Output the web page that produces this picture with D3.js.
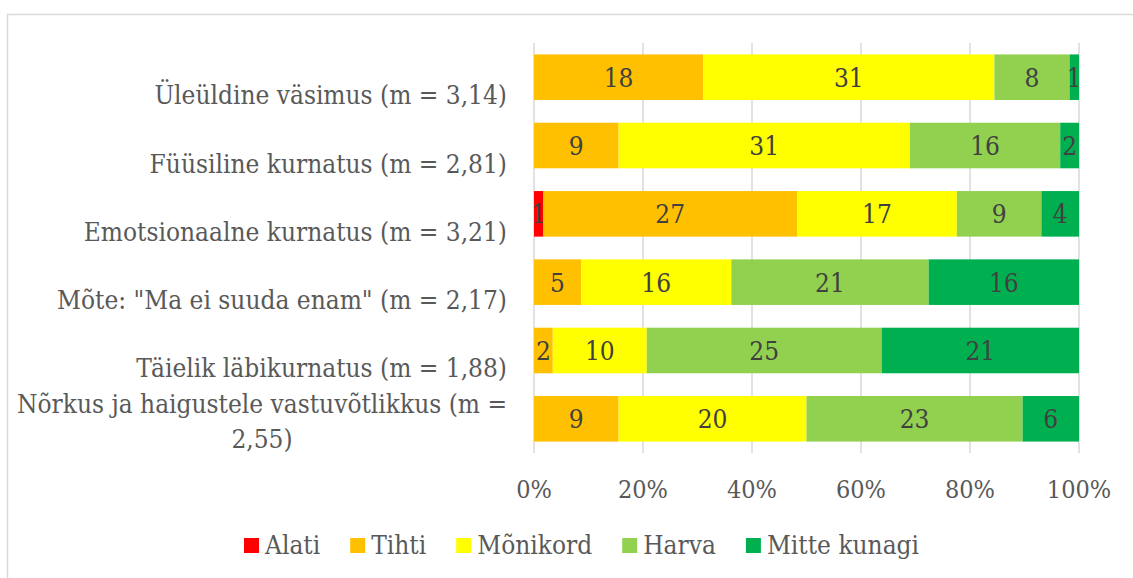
<!DOCTYPE html>
<html lang="et">
<head>
  <meta charset="UTF-8">
  <title>Kurnatus</title>
  <style>
    body { margin: 0; background: #fff; }
    svg { display: block; }
    svg text { font-family: "DejaVu Serif Condensed", "DejaVu Serif", serif; font-stretch: condensed; }
  </style>
</head>
<body>
  <svg width="1133" height="578"></svg>

  <script src="https://d3js.org/d3.v7.min.js"></script>
  <script>
    const categories = [
      "Üleüldine väsimus (m = 3,14)",
      "Füüsiline kurnatus (m = 2,81)",
      "Emotsionaalne kurnatus (m = 3,21)",
      "Mõte: \"Ma ei suuda enam\" (m = 2,17)",
      "Täielik läbikurnatus (m = 1,88)",
      "Nõrkus ja haigustele vastuvõtlikkus (m = 2,55)"
    ];
    const seriesNames = ["Alati", "Tihti", "Mõnikord", "Harva", "Mitte kunagi"];
    const alati       = [0, 0, 1, 0, 0, 0];
    const tihti       = [18, 9, 27, 5, 2, 9];
    const monikord    = [31, 31, 17, 16, 10, 20];
    const harva       = [8, 16, 9, 21, 25, 23];
    const mitteKunagi = [1, 2, 4, 16, 21, 6];
    const tickValues = [0, 0.2, 0.4, 0.6, 0.8, 1];
    const colors = ["#FF0000", "#FFC000", "#FFFF00", "#92D050", "#00B050"];

    const rows = categories.map((c, i) => ({
      cat: c,
      "Alati": alati[i],
      "Tihti": tihti[i],
      "Mõnikord": monikord[i],
      "Harva": harva[i],
      "Mitte kunagi": mitteKunagi[i]
    }));

    const svg = d3.select("svg");

    // chart frame
    svg.append("rect")
      .attr("x", 7.5).attr("y", 14.5)
      .attr("width", 1200).attr("height", 600)
      .attr("fill", "none").attr("stroke", "#D9D9D9").attr("stroke-width", 1.5);

    const x = d3.scaleLinear().domain([0, 1]).range([534, 1079]);
    const y = d3.scaleBand().domain(categories).range([43, 453])
      .paddingInner(0.333).paddingOuter(0.167);
    const color = d3.scaleOrdinal().domain(seriesNames).range(colors);

    // gridlines
    svg.append("g")
      .selectAll("line")
      .data(tickValues)
      .join("line")
      .attr("x1", d => x(d)).attr("x2", d => x(d))
      .attr("y1", 43).attr("y2", 453)
      .attr("stroke", "#D9D9D9").attr("stroke-width", 1.5);

    // tick labels
    svg.append("g")
      .selectAll("text")
      .data(tickValues)
      .join("text")
      .attr("x", d => x(d))
      .attr("y", 498)
      .attr("text-anchor", "middle")
      .attr("font-size", 25)
      .attr("fill", "#595959")
      .text(d => d3.format(".0%")(d));

    const stacked = d3.stack().keys(seriesNames).offset(d3.stackOffsetExpand)(rows);

    const layer = svg.append("g")
      .selectAll("g")
      .data(stacked)
      .join("g")
      .attr("fill", d => color(d.key));

    layer.selectAll("rect")
      .data(d => d)
      .join("rect")
      .attr("x", d => x(d[0]))
      .attr("y", d => y(d.data.cat))
      .attr("width", d => x(d[1]) - x(d[0]))
      .attr("height", y.bandwidth());

    // data labels
    const labels = svg.append("g");
    stacked.forEach(s => {
      s.forEach(d => {
        const v = d.data[s.key];
        if (!v) return;
        labels.append("text")
          .attr("x", (x(d[0]) + x(d[1])) / 2)
          .attr("y", y(d.data.cat) + y.bandwidth() / 2)
          .attr("dy", "0.36em")
          .attr("text-anchor", "middle")
          .attr("font-size", 26)
          .attr("fill", "#404040")
          .text(v);
      });
    });

    // category labels (Excel wraps the last one)
    const catG = svg.append("g")
      .attr("font-size", 26)
      .attr("fill", "#595959");
    const labelRight = 507;
    categories.forEach((c, i) => {
      const cy = y(c) + y.bandwidth() / 2;
      if (i === categories.length - 1) {
        const parts = ["Nõrkus ja haigustele vastuvõtlikkus (m =", "2,55)"];
        const t1 = catG.append("text")
          .attr("x", labelRight).attr("y", cy - 6)
          .attr("text-anchor", "end")
          .text(parts[0]);
        const w = t1.node().getComputedTextLength();
        catG.append("text")
          .attr("x", labelRight - w / 2).attr("y", cy + 29)
          .attr("text-anchor", "middle")
          .text(parts[1]);
      } else {
        catG.append("text")
          .attr("x", labelRight).attr("y", cy + 27)
          .attr("text-anchor", "end")
          .text(c);
      }
    });

    // legend
    const legend = svg.append("g")
      .attr("font-size", 26)
      .attr("fill", "#595959");
    let lx = 244;
    seriesNames.forEach((name, i) => {
      legend.append("rect")
        .attr("x", lx).attr("y", 538)
        .attr("width", 15).attr("height", 15)
        .attr("fill", colors[i]);
      const t = legend.append("text")
        .attr("x", lx + 21).attr("y", 554)
        .text(name);
      lx += 21 + t.node().getComputedTextLength() + 30;
    });
  </script>
</body>
</html>
